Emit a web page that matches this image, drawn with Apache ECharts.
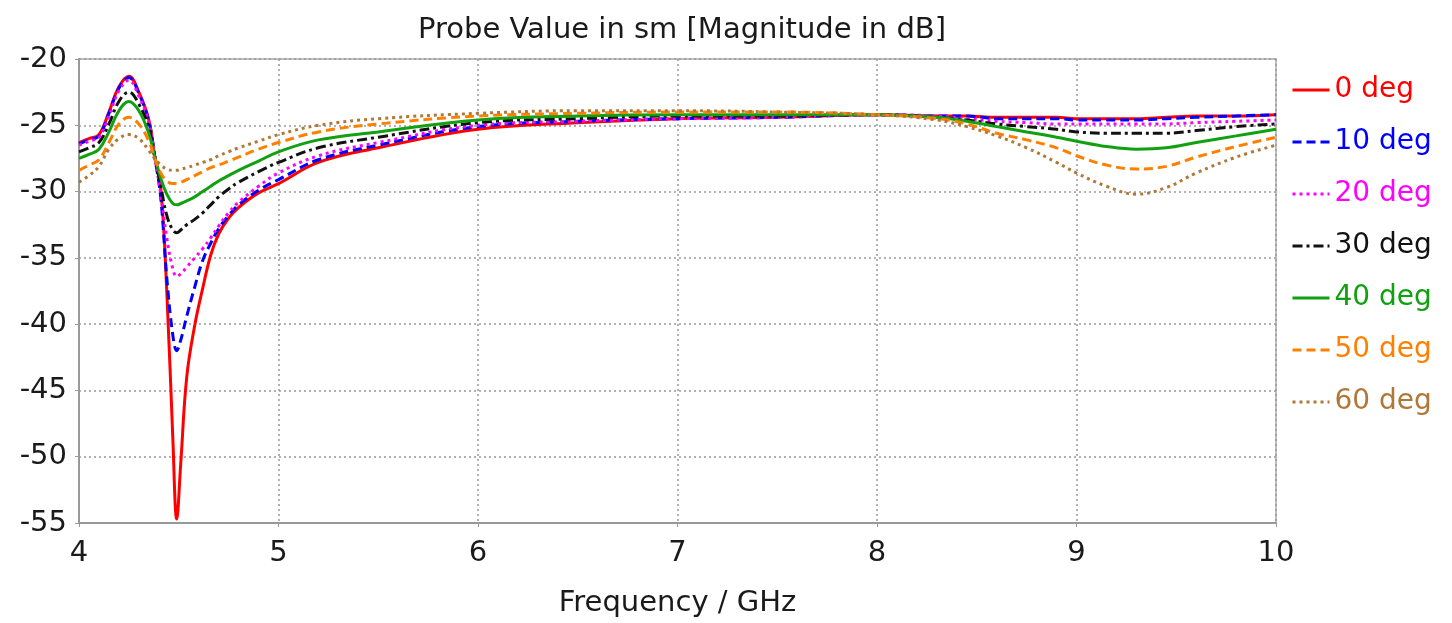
<!DOCTYPE html>
<html>
<head>
<meta charset="utf-8">
<script src="https://cdn.jsdelivr.net/npm/echarts@6/dist/echarts.min.js"></script>
<style>
html,body{margin:0;padding:0;background:#fff;overflow:hidden;}
#c{width:1452px;height:623px;}
</style>
</head>
<body>
<div id="c"></div>
<script>
const freq = [4.0, 4.05, 4.1, 4.15, 4.2, 4.25, 4.3, 4.35, 4.38, 4.41, 4.44, 4.47, 4.49, 4.51, 4.54, 4.58, 4.62, 4.66, 4.7, 4.75, 4.8, 4.9, 5.0, 5.2, 5.5, 6.0, 6.5, 7.0, 7.5, 8.0, 8.3, 8.45, 8.6, 8.75, 8.9, 9.0, 9.15, 9.3, 9.45, 9.6, 9.8, 10.0];

const deg0  = [-26.3, -26.0, -25.7, -24.0, -22.1, -21.3, -22.5, -24.6, -27.4, -29.8, -37.5, -48.5, -54.7, -50.5, -44.0, -40.1, -37.3, -34.8, -33.2, -32.0, -31.2, -30.1, -29.4, -27.8, -26.7, -25.3, -24.8, -24.5, -24.4, -24.2, -24.3, -24.3, -24.4, -24.4, -24.4, -24.5, -24.5, -24.5, -24.4, -24.3, -24.3, -24.2];
const deg10 = [-26.4, -26.1, -25.8, -24.1, -22.2, -21.4, -22.6, -24.7, -27.4, -30.5, -36.5, -40.8, -42.0, -41.2, -39.4, -37.2, -35.2, -33.9, -32.8, -31.8, -31.0, -29.9, -29.1, -27.6, -26.5, -25.1, -24.7, -24.5, -24.4, -24.2, -24.3, -24.3, -24.5, -24.5, -24.5, -24.6, -24.6, -24.6, -24.5, -24.4, -24.3, -24.2];
const deg20 = [-26.5, -26.2, -25.9, -24.3, -22.4, -21.6, -22.8, -24.8, -27.4, -30.2, -33.5, -35.8, -36.4, -36.2, -35.7, -35.0, -34.3, -33.5, -32.6, -31.6, -30.8, -29.6, -28.6, -27.3, -26.3, -25.0, -24.7, -24.5, -24.4, -24.2, -24.3, -24.5, -24.7, -24.8, -24.9, -24.9, -24.9, -24.9, -24.9, -24.8, -24.7, -24.6];
const deg30 = [-27.0, -26.7, -26.3, -24.9, -23.2, -22.5, -23.4, -25.2, -27.4, -29.6, -31.8, -32.9, -33.1, -32.9, -32.5, -32.1, -31.6, -31.0, -30.4, -29.8, -29.3, -28.5, -27.8, -26.7, -25.9, -24.8, -24.5, -24.3, -24.3, -24.2, -24.4, -24.6, -24.9, -25.1, -25.3, -25.5, -25.6, -25.6, -25.6, -25.4, -25.1, -24.9];
const deg40 = [-27.5, -27.2, -26.8, -25.5, -23.9, -23.2, -23.9, -25.6, -27.4, -29.0, -30.2, -30.9, -31.0, -30.9, -30.7, -30.4, -30.0, -29.6, -29.2, -28.8, -28.4, -27.7, -27.0, -26.1, -25.5, -24.6, -24.3, -24.2, -24.2, -24.2, -24.4, -24.7, -25.1, -25.5, -25.9, -26.2, -26.6, -26.8, -26.7, -26.3, -25.8, -25.3];
const deg50 = [-28.4, -28.0, -27.6, -26.3, -24.9, -24.4, -24.9, -26.2, -27.5, -28.6, -29.2, -29.4, -29.4, -29.3, -29.1, -28.8, -28.5, -28.2, -28.0, -27.7, -27.4, -26.8, -26.3, -25.5, -24.9, -24.3, -24.1, -24.0, -24.0, -24.2, -24.5, -24.9, -25.6, -26.1, -26.7, -27.3, -28.0, -28.3, -28.1, -27.4, -26.6, -25.9];
const deg60 = [-29.3, -28.8, -28.1, -26.8, -26.0, -25.7, -26.0, -26.9, -27.5, -28.0, -28.3, -28.4, -28.4, -28.3, -28.2, -28.0, -27.8, -27.6, -27.3, -27.0, -26.7, -26.2, -25.7, -25.0, -24.5, -24.1, -23.9, -23.9, -24.0, -24.2, -24.6, -25.1, -25.8, -26.7, -27.8, -28.6, -29.6, -30.2, -29.7, -28.6, -27.4, -26.5];

const seriesNames = ['0 deg', '10 deg', '20 deg', '30 deg', '40 deg', '50 deg', '60 deg'];
const seriesValues = [deg0, deg10, deg20, deg30, deg40, deg50, deg60];
const colors = ['#ff0000', '#0000ff', '#ff00ff', '#111111', '#10a010', '#ff8000', '#b07838'];
const dashes = ['solid', [9, 5], [3, 4], [10, 4, 3, 4], 'solid', [9, 5], [3, 4]];

const FONT = '"DejaVu Sans", sans-serif';

const chart = echarts.init(document.getElementById('c'), null, {renderer: 'canvas'});
chart.setOption({
  backgroundColor: '#ffffff',
  animation: false,
  title: {
    text: 'Probe Value in sm [Magnitude in dB]',
    left: 677, top: 11, textAlign: 'center',
    textStyle: {fontFamily: FONT, fontSize: 29, fontWeight: 'normal', color: '#1a1a1a'}
  },
  legend: {
    orient: 'vertical',
    left: 1286, top: 71,
    itemWidth: 37, itemHeight: 14, itemGap: 24,
    itemStyle: {opacity: 0},
    lineStyle: {width: 3},
    textStyle: {fontFamily: FONT, fontSize: 28},
    data: seriesNames.map((n, i) => ({name: n, textStyle: {color: colors[i]}}))
  },
  grid: {
    left: 79, right: 176, top: 59, bottom: 100,
    outerBoundsMode: 'none',
    containLabel: false,
    show: true, borderColor: '#aaaaaa', borderWidth: 1.5
  },
  xAxis: {
    type: 'value', min: 4, max: 10, interval: 1,
    name: 'Frequency / GHz', nameLocation: 'middle', nameGap: 66,
    nameTextStyle: {fontFamily: FONT, fontSize: 29, color: '#1a1a1a'},
    axisLine: {show: true, lineStyle: {color: '#999999', width: 2}},
    axisTick: {show: true, length: 4, lineStyle: {color: '#999999'}},
    axisLabel: {fontFamily: FONT, fontSize: 29, color: '#1a1a1a', margin: 16},
    splitLine: {show: true, lineStyle: {color: '#999999', type: [2, 3], width: 1.5}}
  },
  yAxis: {
    type: 'value', min: -55, max: -20, interval: 5,
    axisLine: {show: true, lineStyle: {color: '#999999', width: 2}},
    axisTick: {show: true, length: 4, lineStyle: {color: '#999999'}},
    axisLabel: {fontFamily: FONT, fontSize: 29, color: '#1a1a1a', margin: 12},
    splitLine: {show: true, lineStyle: {color: '#999999', type: [2, 3], width: 1.5}}
  },
  series: seriesNames.map((n, i) => ({
    name: n,
    type: 'line',
    symbol: 'none',
    smooth: 0.4,
    data: freq.map((f, k) => [f, seriesValues[i][k]]),
    lineStyle: {color: colors[i], width: 3, type: dashes[i]},
    itemStyle: {color: colors[i]}
  }))
});
</script>
</body>
</html>
